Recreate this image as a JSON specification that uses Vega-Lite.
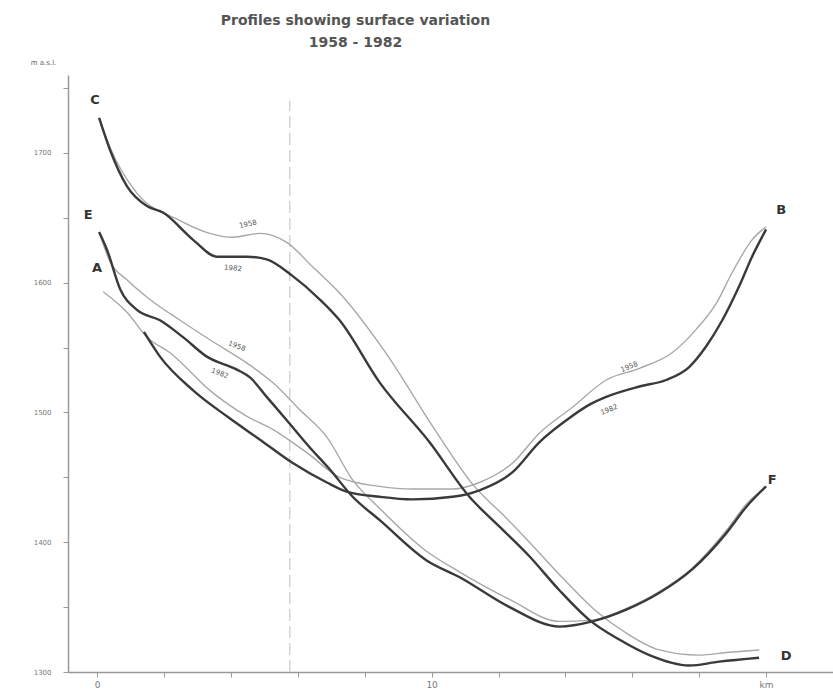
{
  "$schema": "https://vega.github.io/schema/vega-lite/v6.json",
  "width": 765,
  "height": 597,
  "autosize": {"type": "none"},
  "padding": {"left": 68, "top": 75, "right": 0, "bottom": 26},
  "background": "white",
  "title": {
    "text": ["Profiles showing surface variation", "1958 - 1982"],
    "font": "DejaVu Sans",
    "fontSize": 14,
    "fontWeight": "bold",
    "color": "#555",
    "anchor": "middle",
    "frame": "group",
    "dx": -95,
    "offset": 8,
    "lineHeight": 22
  },
  "config": {
    "view": {"stroke": null},
    "axis": {
      "grid": false,
      "domainColor": "#999",
      "domainWidth": 1.5,
      "tickColor": "#999",
      "labelColor": "#777",
      "labelFont": "DejaVu Sans",
      "labelFontSize": 7,
      "titleFont": "DejaVu Sans",
      "titleColor": "#666",
      "titleFontWeight": "normal"
    }
  },
  "datasets": {
    "profiles": [
      {"profile": "C-D", "year": "1982", "km": 0.06, "elev": 1727},
      {"profile": "C-D", "year": "1982", "km": 0.39, "elev": 1702},
      {"profile": "C-D", "year": "1982", "km": 0.90, "elev": 1674},
      {"profile": "C-D", "year": "1982", "km": 1.49, "elev": 1659},
      {"profile": "C-D", "year": "1982", "km": 1.97, "elev": 1654},
      {"profile": "C-D", "year": "1982", "km": 2.87, "elev": 1633},
      {"profile": "C-D", "year": "1982", "km": 3.58, "elev": 1620},
      {"profile": "C-D", "year": "1982", "km": 4.48, "elev": 1620},
      {"profile": "C-D", "year": "1982", "km": 5.07, "elev": 1618},
      {"profile": "C-D", "year": "1982", "km": 5.85, "elev": 1605},
      {"profile": "C-D", "year": "1982", "km": 6.66, "elev": 1587},
      {"profile": "C-D", "year": "1982", "km": 7.25, "elev": 1571},
      {"profile": "C-D", "year": "1982", "km": 8.45, "elev": 1523},
      {"profile": "C-D", "year": "1982", "km": 9.94, "elev": 1477},
      {"profile": "C-D", "year": "1982", "km": 11.13, "elev": 1435},
      {"profile": "C-D", "year": "1982", "km": 12.03, "elev": 1412},
      {"profile": "C-D", "year": "1982", "km": 12.93, "elev": 1389},
      {"profile": "C-D", "year": "1982", "km": 13.82, "elev": 1363},
      {"profile": "C-D", "year": "1982", "km": 14.72, "elev": 1340},
      {"profile": "C-D", "year": "1982", "km": 15.61, "elev": 1325},
      {"profile": "C-D", "year": "1982", "km": 16.51, "elev": 1313},
      {"profile": "C-D", "year": "1982", "km": 17.70, "elev": 1305},
      {"profile": "C-D", "year": "1982", "km": 18.60, "elev": 1308},
      {"profile": "C-D", "year": "1982", "km": 19.79, "elev": 1311},

      {"profile": "C-D", "year": "1958", "km": 0.06, "elev": 1727},
      {"profile": "C-D", "year": "1958", "km": 0.39, "elev": 1704},
      {"profile": "C-D", "year": "1958", "km": 1.19, "elev": 1669},
      {"profile": "C-D", "year": "1958", "km": 2.39, "elev": 1649},
      {"profile": "C-D", "year": "1958", "km": 3.37, "elev": 1638},
      {"profile": "C-D", "year": "1958", "km": 4.06, "elev": 1635},
      {"profile": "C-D", "year": "1958", "km": 4.87, "elev": 1638},
      {"profile": "C-D", "year": "1958", "km": 5.67, "elev": 1631},
      {"profile": "C-D", "year": "1958", "km": 6.45, "elev": 1612},
      {"profile": "C-D", "year": "1958", "km": 7.25, "elev": 1592},
      {"profile": "C-D", "year": "1958", "km": 8.60, "elev": 1547},
      {"profile": "C-D", "year": "1958", "km": 10.09, "elev": 1487},
      {"profile": "C-D", "year": "1958", "km": 11.28, "elev": 1443},
      {"profile": "C-D", "year": "1958", "km": 12.18, "elev": 1420},
      {"profile": "C-D", "year": "1958", "km": 13.07, "elev": 1396},
      {"profile": "C-D", "year": "1958", "km": 13.97, "elev": 1371},
      {"profile": "C-D", "year": "1958", "km": 14.87, "elev": 1348},
      {"profile": "C-D", "year": "1958", "km": 15.76, "elev": 1331},
      {"profile": "C-D", "year": "1958", "km": 16.81, "elev": 1317},
      {"profile": "C-D", "year": "1958", "km": 18.00, "elev": 1313},
      {"profile": "C-D", "year": "1958", "km": 18.81, "elev": 1315},
      {"profile": "C-D", "year": "1958", "km": 19.79, "elev": 1317},

      {"profile": "E-F", "year": "1982", "km": 0.06, "elev": 1639},
      {"profile": "E-F", "year": "1982", "km": 0.30, "elev": 1625},
      {"profile": "E-F", "year": "1982", "km": 0.69, "elev": 1595},
      {"profile": "E-F", "year": "1982", "km": 1.19, "elev": 1579},
      {"profile": "E-F", "year": "1982", "km": 1.88, "elev": 1571},
      {"profile": "E-F", "year": "1982", "km": 2.57, "elev": 1558},
      {"profile": "E-F", "year": "1982", "km": 3.28, "elev": 1543},
      {"profile": "E-F", "year": "1982", "km": 4.18, "elev": 1533},
      {"profile": "E-F", "year": "1982", "km": 4.57, "elev": 1527},
      {"profile": "E-F", "year": "1982", "km": 5.07, "elev": 1512},
      {"profile": "E-F", "year": "1982", "km": 5.67, "elev": 1494},
      {"profile": "E-F", "year": "1982", "km": 6.36, "elev": 1473},
      {"profile": "E-F", "year": "1982", "km": 6.96, "elev": 1456},
      {"profile": "E-F", "year": "1982", "km": 7.64, "elev": 1435},
      {"profile": "E-F", "year": "1982", "km": 8.45, "elev": 1417},
      {"profile": "E-F", "year": "1982", "km": 9.85, "elev": 1386},
      {"profile": "E-F", "year": "1982", "km": 10.84, "elev": 1373},
      {"profile": "E-F", "year": "1982", "km": 12.33, "elev": 1350},
      {"profile": "E-F", "year": "1982", "km": 13.82, "elev": 1335},
      {"profile": "E-F", "year": "1982", "km": 14.81, "elev": 1339},
      {"profile": "E-F", "year": "1982", "km": 15.82, "elev": 1348},
      {"profile": "E-F", "year": "1982", "km": 16.81, "elev": 1361},
      {"profile": "E-F", "year": "1982", "km": 17.79, "elev": 1379},
      {"profile": "E-F", "year": "1982", "km": 18.81, "elev": 1407},
      {"profile": "E-F", "year": "1982", "km": 19.40, "elev": 1427},
      {"profile": "E-F", "year": "1982", "km": 20.00, "elev": 1443},

      {"profile": "E-F", "year": "1958", "km": 0.06, "elev": 1639},
      {"profile": "E-F", "year": "1958", "km": 0.39, "elev": 1616},
      {"profile": "E-F", "year": "1958", "km": 0.90, "elev": 1602},
      {"profile": "E-F", "year": "1958", "km": 1.58, "elev": 1587},
      {"profile": "E-F", "year": "1958", "km": 2.48, "elev": 1571},
      {"profile": "E-F", "year": "1958", "km": 3.37, "elev": 1556},
      {"profile": "E-F", "year": "1958", "km": 4.48, "elev": 1538},
      {"profile": "E-F", "year": "1958", "km": 5.25, "elev": 1523},
      {"profile": "E-F", "year": "1958", "km": 6.06, "elev": 1502},
      {"profile": "E-F", "year": "1958", "km": 6.87, "elev": 1481},
      {"profile": "E-F", "year": "1958", "km": 7.64, "elev": 1448},
      {"profile": "E-F", "year": "1958", "km": 8.45, "elev": 1426},
      {"profile": "E-F", "year": "1958", "km": 9.85, "elev": 1393},
      {"profile": "E-F", "year": "1958", "km": 10.84, "elev": 1377},
      {"profile": "E-F", "year": "1958", "km": 12.33, "elev": 1356},
      {"profile": "E-F", "year": "1958", "km": 13.82, "elev": 1339},
      {"profile": "E-F", "year": "1958", "km": 14.81, "elev": 1340},
      {"profile": "E-F", "year": "1958", "km": 15.82, "elev": 1349},
      {"profile": "E-F", "year": "1958", "km": 16.81, "elev": 1362},
      {"profile": "E-F", "year": "1958", "km": 17.79, "elev": 1380},
      {"profile": "E-F", "year": "1958", "km": 18.81, "elev": 1409},
      {"profile": "E-F", "year": "1958", "km": 19.40, "elev": 1429},
      {"profile": "E-F", "year": "1958", "km": 20.00, "elev": 1443},

      {"profile": "A-B", "year": "1982", "km": 1.40, "elev": 1562},
      {"profile": "A-B", "year": "1982", "km": 1.88, "elev": 1543},
      {"profile": "A-B", "year": "1982", "km": 2.87, "elev": 1517},
      {"profile": "A-B", "year": "1982", "km": 3.88, "elev": 1497},
      {"profile": "A-B", "year": "1982", "km": 4.87, "elev": 1479},
      {"profile": "A-B", "year": "1982", "km": 5.85, "elev": 1461},
      {"profile": "A-B", "year": "1982", "km": 6.87, "elev": 1446},
      {"profile": "A-B", "year": "1982", "km": 7.46, "elev": 1439},
      {"profile": "A-B", "year": "1982", "km": 8.45, "elev": 1435},
      {"profile": "A-B", "year": "1982", "km": 9.43, "elev": 1433},
      {"profile": "A-B", "year": "1982", "km": 10.63, "elev": 1435},
      {"profile": "A-B", "year": "1982", "km": 11.43, "elev": 1440},
      {"profile": "A-B", "year": "1982", "km": 12.42, "elev": 1454},
      {"profile": "A-B", "year": "1982", "km": 13.22, "elev": 1477},
      {"profile": "A-B", "year": "1982", "km": 14.03, "elev": 1494},
      {"profile": "A-B", "year": "1982", "km": 14.72, "elev": 1506},
      {"profile": "A-B", "year": "1982", "km": 15.22, "elev": 1512},
      {"profile": "A-B", "year": "1982", "km": 16.21, "elev": 1520},
      {"profile": "A-B", "year": "1982", "km": 17.01, "elev": 1525},
      {"profile": "A-B", "year": "1982", "km": 17.70, "elev": 1535},
      {"profile": "A-B", "year": "1982", "km": 18.21, "elev": 1551},
      {"profile": "A-B", "year": "1982", "km": 18.69, "elev": 1571},
      {"profile": "A-B", "year": "1982", "km": 19.19, "elev": 1597},
      {"profile": "A-B", "year": "1982", "km": 19.58, "elev": 1620},
      {"profile": "A-B", "year": "1982", "km": 20.00, "elev": 1641},

      {"profile": "A-B", "year": "1958", "km": 0.18, "elev": 1593},
      {"profile": "A-B", "year": "1958", "km": 0.90, "elev": 1577},
      {"profile": "A-B", "year": "1958", "km": 1.49, "elev": 1558},
      {"profile": "A-B", "year": "1958", "km": 2.18, "elev": 1546},
      {"profile": "A-B", "year": "1958", "km": 3.37, "elev": 1517},
      {"profile": "A-B", "year": "1958", "km": 4.48, "elev": 1497},
      {"profile": "A-B", "year": "1958", "km": 5.25, "elev": 1487},
      {"profile": "A-B", "year": "1958", "km": 6.27, "elev": 1469},
      {"profile": "A-B", "year": "1958", "km": 7.25, "elev": 1450},
      {"profile": "A-B", "year": "1958", "km": 8.45, "elev": 1443},
      {"profile": "A-B", "year": "1958", "km": 9.43, "elev": 1441},
      {"profile": "A-B", "year": "1958", "km": 10.63, "elev": 1441},
      {"profile": "A-B", "year": "1958", "km": 11.43, "elev": 1446},
      {"profile": "A-B", "year": "1958", "km": 12.42, "elev": 1461},
      {"profile": "A-B", "year": "1958", "km": 13.22, "elev": 1484},
      {"profile": "A-B", "year": "1958", "km": 14.21, "elev": 1504},
      {"profile": "A-B", "year": "1958", "km": 15.22, "elev": 1525},
      {"profile": "A-B", "year": "1958", "km": 16.21, "elev": 1534},
      {"profile": "A-B", "year": "1958", "km": 17.19, "elev": 1546},
      {"profile": "A-B", "year": "1958", "km": 17.91, "elev": 1564},
      {"profile": "A-B", "year": "1958", "km": 18.51, "elev": 1584},
      {"profile": "A-B", "year": "1958", "km": 18.99, "elev": 1608},
      {"profile": "A-B", "year": "1958", "km": 19.58, "elev": 1633},
      {"profile": "A-B", "year": "1958", "km": 20.00, "elev": 1643}
    ],
    "letters": [
      {"label": "C", "km": -0.06, "elev": 1741},
      {"label": "E", "km": -0.27, "elev": 1652},
      {"label": "A", "km": 0.0, "elev": 1611},
      {"label": "B", "km": 20.45, "elev": 1656},
      {"label": "F", "km": 20.18, "elev": 1448},
      {"label": "D", "km": 20.6, "elev": 1312}
    ],
    "years": [
      {"profile": "C-D", "label": "1958", "km": 4.51, "elev": 1645},
      {"profile": "C-D", "label": "1982", "km": 4.06, "elev": 1611},
      {"profile": "E-F", "label": "1958", "km": 4.18, "elev": 1551},
      {"profile": "E-F", "label": "1982", "km": 3.67, "elev": 1530},
      {"profile": "A-B", "label": "1958", "km": 15.91, "elev": 1535},
      {"profile": "A-B", "label": "1982", "km": 15.31, "elev": 1502}
    ],
    "divider": [
      {"km": 5.76, "bottom": 1300, "top": 1740}
    ]
  },
  "layer": [
    {
      "data": {"name": "divider"},
      "mark": {"type": "rule", "color": "#d5d5d5", "strokeWidth": 1.5, "strokeDash": [12, 5]},
      "encoding": {
        "x": {
          "field": "km", "type": "quantitative",
          "scale": {"domain": [-0.87, 22], "nice": false, "zero": false},
          "axis": {
            "title": null,
            "values": [0, 2, 4, 6, 8, 10, 12, 14, 16, 18, 20],
            "labelExpr": "datum.value == 20 ? 'km' : (datum.value % 10 == 0 ? datum.label : '')",
            "tickSize": 5,
            "labelFontSize": 9,
            "labelPadding": 3
          }
        },
        "y": {
          "field": "bottom", "type": "quantitative",
          "scale": {"domain": [1300, 1760], "nice": false, "zero": false},
          "axis": {
            "title": "m a.s.l.",
            "titleAngle": 0,
            "titleFontSize": 7,
            "titleAlign": "center",
            "titleBaseline": "middle",
            "titleX": -25,
            "titleY": -13,
            "values": [1300, 1350, 1400, 1450, 1500, 1550, 1600, 1650, 1700, 1750],
            "labelExpr": "datum.value % 100 == 0 ? datum.label : ''",
            "format": "d",
            "tickSize": 5,
            "labelPadding": 12
          }
        },
        "y2": {"field": "top"}
      }
    },
    {
      "data": {"name": "profiles"},
      "transform": [{"filter": "datum.year == '1958'"}],
      "mark": {"type": "line", "interpolate": "monotone", "color": "#a8a8a8", "strokeWidth": 1.4},
      "encoding": {
        "x": {"field": "km", "type": "quantitative"},
        "y": {"field": "elev", "type": "quantitative"},
        "detail": {"field": "profile"}
      }
    },
    {
      "data": {"name": "profiles"},
      "transform": [{"filter": "datum.year == '1982'"}],
      "mark": {"type": "line", "interpolate": "monotone", "color": "#3a3a3a", "strokeWidth": 2.4},
      "encoding": {
        "x": {"field": "km", "type": "quantitative"},
        "y": {"field": "elev", "type": "quantitative"},
        "detail": {"field": "profile"}
      }
    },
    {
      "data": {"name": "letters"},
      "mark": {"type": "text", "font": "DejaVu Sans", "fontSize": 13, "fontWeight": "bold", "color": "#333"},
      "encoding": {
        "x": {"field": "km", "type": "quantitative"},
        "y": {"field": "elev", "type": "quantitative"},
        "text": {"field": "label"}
      }
    },
    {
      "data": {"name": "years"},
      "transform": [{"filter": "datum.profile == 'C-D' && datum.label == '1958'"}],
      "mark": {"type": "text", "font": "DejaVu Sans", "fontSize": 7, "color": "#555", "angle": -12},
      "encoding": {
        "x": {"field": "km", "type": "quantitative"},
        "y": {"field": "elev", "type": "quantitative"},
        "text": {"field": "label"}
      }
    },
    {
      "data": {"name": "years"},
      "transform": [{"filter": "datum.profile == 'C-D' && datum.label == '1982'"}],
      "mark": {"type": "text", "font": "DejaVu Sans", "fontSize": 7, "color": "#555", "angle": 6},
      "encoding": {
        "x": {"field": "km", "type": "quantitative"},
        "y": {"field": "elev", "type": "quantitative"},
        "text": {"field": "label"}
      }
    },
    {
      "data": {"name": "years"},
      "transform": [{"filter": "datum.profile == 'E-F'"}],
      "mark": {"type": "text", "font": "DejaVu Sans", "fontSize": 7, "color": "#555", "angle": 20},
      "encoding": {
        "x": {"field": "km", "type": "quantitative"},
        "y": {"field": "elev", "type": "quantitative"},
        "text": {"field": "label"}
      }
    },
    {
      "data": {"name": "years"},
      "transform": [{"filter": "datum.profile == 'A-B'"}],
      "mark": {"type": "text", "font": "DejaVu Sans", "fontSize": 7, "color": "#555", "angle": -22},
      "encoding": {
        "x": {"field": "km", "type": "quantitative"},
        "y": {"field": "elev", "type": "quantitative"},
        "text": {"field": "label"}
      }
    }
  ]
}
